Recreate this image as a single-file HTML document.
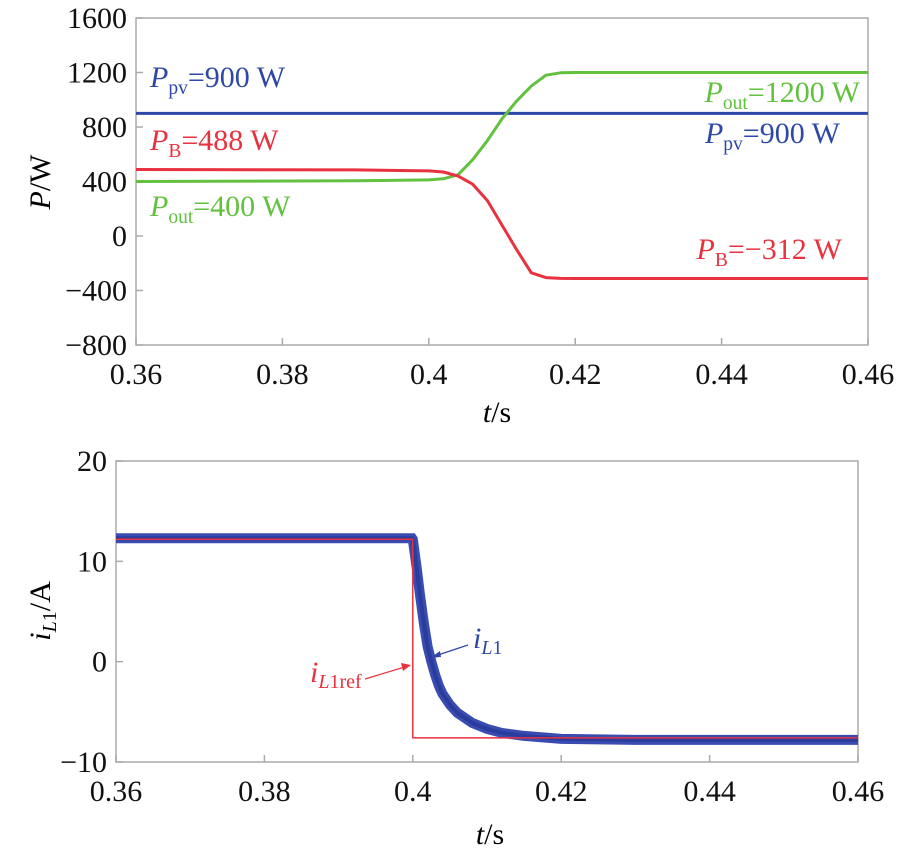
<!DOCTYPE html>
<html><head><meta charset="utf-8"><style>
body{margin:0;background:#fff;}
svg{display:block;font-family:"Liberation Serif",serif;}
</style></head><body>
<svg id="s" width="918" height="857" viewBox="0 0 918 857" xmlns="http://www.w3.org/2000/svg">
<g id="top"></g>
<g id="bot"></g>
</svg>
<script>
const xTicks=[0.36,0.38,0.4,0.42,0.44,0.46];
const xTickLabels=["0.36","0.38","0.4","0.42","0.44","0.46"];
const pTicks=[1600,1200,800,400,0,-400,-800];
const pTickLabels=["1600","1200","800","400","0","\u2212400","\u2212800"];
const tP=[0.36,0.39,0.4,0.402,0.404,0.406,0.408,0.41,0.412,0.414,0.416,0.418,0.42,0.46];
const pPv=[900,900,900,900,900,900,900,900,900,900,900,900,900,900];
const pOut=[400,405,412,420,450,560,700,860,990,1100,1180,1198,1200,1200];
const pB=[488,485,478,470,440,380,260,80,-100,-270,-305,-311,-312,-312];
const iTicks=[20,10,0,-10];
const iTickLabels=["20","10","0","\u221210"];
const tI=[0.36,0.3999,0.4,0.4005,0.401,0.4015,0.402,0.4025,0.403,0.4035,0.404,0.405,0.406,0.408,0.41,0.412,0.415,0.42,0.43,0.46];
const iL1=[12.3,12.3,12.2,9.5,6.5,3.8,1.5,0,-1.3,-2.4,-3.2,-4.3,-5.1,-6.1,-6.7,-7.1,-7.4,-7.7,-7.8,-7.8];
const tRef=[0.36,0.4,0.4,0.46];
const iRef=[12.2,12.2,-7.6,-7.6];
const NS="http://www.w3.org/2000/svg";
function mk(p,tag,a,txt){const e=document.createElementNS(NS,tag);for(const k in a)e.setAttribute(k,a[k]);if(txt!==undefined)e.textContent=txt;p.appendChild(e);return e;}
function axes(g,L,R,T,B,x,y,yt,ytl){
  const f=mk(g,'rect',{x:L,y:T,width:R-L,height:B-T,fill:'none',stroke:'#aaa','stroke-width':1.5});
  
  xTicks.forEach((v,i)=>{mk(g,'line',{x1:x(v),x2:x(v),y1:B,y2:B-7,stroke:'#aaa','stroke-width':1.5});
    const t=mk(g,'text',{x:x(v),y:B+39,'font-size':30,'text-anchor':'middle',fill:'#111'},xTickLabels[i]);
    });
  yt.forEach((v,i)=>{mk(g,'line',{x1:L,x2:L+7,y1:y(v),y2:y(v),stroke:'#aaa','stroke-width':1.5});
    const t=mk(g,'text',{x:L-9,y:y(v)+10,'font-size':30,'text-anchor':'end',fill:'#111'},ytl[i]);
    });
}
function path(g,xs,ys,x,y,col,w,name){const d=xs.map((v,i)=>(i?'L':'M')+x(v).toFixed(1)+','+y(ys[i]).toFixed(1)).join('');
  const p=mk(g,'path',{d:d,fill:'none',stroke:col,'stroke-width':w,'stroke-linejoin':'round'});
  return p;}
function label(g,x,y,main,sub,rest,col,size,anchor,name){
  const t=mk(g,'text',{x:x,y:y,'font-size':size,fill:col,'text-anchor':anchor||'start'});
  
  mk(t,'tspan',{'font-style':'italic'},main);mk(t,'tspan',{'font-size':size*0.65,dy:7},sub);mk(t,'tspan',{dy:-7},rest);return t;}
// top
const g1=document.getElementById('top');
const x1=v=>136+(v-0.36)/0.1*732, y1=v=>18+(1600-v)/2400*327;
axes(g1,136,868,18,345,x1,y1,pTicks,pTickLabels);
path(g1,tP,pPv,x1,y1,'#2f48a8',3,'ppv-line');
path(g1,tP,pOut,x1,y1,'#62c13e',3,'pout-line');
path(g1,tP,pB,x1,y1,'#e8323f',3,'pb-line');
label(g1,150,87,'P','pv','=900 W','#2f48a8',30,'start','ppv-label-left');
label(g1,150,150,'P','B','=488 W','#e8323f',30,'start','pb-label-left');
label(g1,150,216,'P','out','=400 W','#62c13e',30,'start','pout-label-left');
label(g1,860,102,'P','out','=1200 W','#62c13e',30,'end','pout-label-right');
label(g1,840,143,'P','pv','=900 W','#2f48a8',30,'end','ppv-label-right');
label(g1,842,259,'P','B','=\u2212312 W','#e8323f',30,'end','pb-label-right');
let t=mk(g1,'text',{x:0,y:0,'font-size':30,'text-anchor':'middle',transform:'translate(50,182) rotate(-90)'});

mk(t,'tspan',{'font-style':'italic'},'P');mk(t,'tspan',{},'/W');
t=mk(g1,'text',{x:497,y:422,'font-size':30,'text-anchor':'middle'});

mk(t,'tspan',{'font-style':'italic'},'t');mk(t,'tspan',{},'/s');
// bottom
const g2=document.getElementById('bot');
const x2=v=>116+(v-0.36)/0.1*742, y2=v=>461+(20-v)/30*301;
axes(g2,116,858,461,762,x2,y2,iTicks,iTickLabels);
path(g2,tI,iL1,x2,y2,'#3a4cb0',10,'il1-noise-band').setAttribute('stroke-linejoin','miter');
path(g2,tI,iL1,x2,y2,'#2a3c9e',4,'il1-line');
path(g2,tRef,iRef,x2,y2,'#e8323f',1.5,'il1ref-line');
mk(g2,'line',{x1:468,y1:645,x2:432,y2:657,stroke:'#3446a8','stroke-width':1.2});
mk(g2,'path',{d:'M430,658 L440,651 L441,657 Z',fill:'#3446a8'});
mk(g2,'line',{x1:365,y1:679,x2:408,y2:666,stroke:'#e8323f','stroke-width':1.2});
mk(g2,'path',{d:'M411,665 L401,663 L403,671 Z',fill:'#e8323f'});
t=mk(g2,'text',{x:473,y:648,'font-size':30,fill:'#2f48a8'});

mk(t,'tspan',{'font-style':'italic'},'i');mk(t,'tspan',{'font-size':20,dy:6,'font-style':'italic'},'L');mk(t,'tspan',{'font-size':20},'1');
t=mk(g2,'text',{x:310,y:682,'font-size':30,fill:'#e8323f'});

mk(t,'tspan',{'font-style':'italic'},'i');mk(t,'tspan',{'font-size':20,dy:6,'font-style':'italic'},'L');mk(t,'tspan',{'font-size':20},'1ref');
t=mk(g2,'text',{x:0,y:0,'font-size':30,'text-anchor':'middle',transform:'translate(50,611) rotate(-90)'});

mk(t,'tspan',{'font-style':'italic'},'i');mk(t,'tspan',{'font-size':20,dy:6,'font-style':'italic'},'L');mk(t,'tspan',{'font-size':20},'1');mk(t,'tspan',{dy:-6},'/A');
t=mk(g2,'text',{x:490,y:844,'font-size':30,'text-anchor':'middle'});

mk(t,'tspan',{'font-style':'italic'},'t');mk(t,'tspan',{},'/s');
</script>
</body></html>
